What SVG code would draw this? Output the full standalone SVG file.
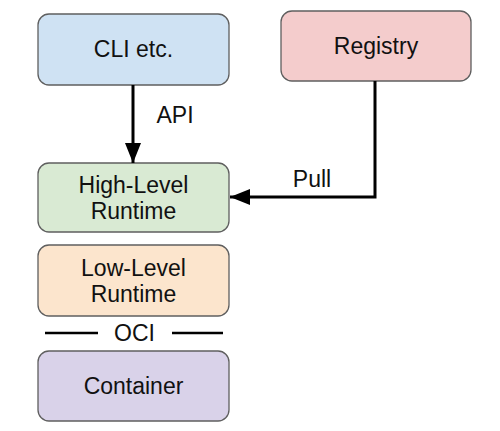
<svg xmlns="http://www.w3.org/2000/svg" width="500" height="431" viewBox="0 0 500 431">
<style>
.box{stroke:#5f5f5f;stroke-width:1.3}
.t{font-family:"Liberation Sans",Arial,sans-serif;font-size:23px;fill:#111;text-anchor:middle}
.c{fill:none;stroke:#000;stroke-width:3}
.o{stroke:#000;stroke-width:2.5}
</style>
<defs>
<marker id="ah" markerUnits="userSpaceOnUse" markerWidth="20" markerHeight="16" refX="20" refY="8" orient="auto">
<path d="M0,0 L20,8 L0,16 Z" fill="#000"/>
</marker>
</defs>
<rect width="500" height="431" fill="#fff"/>
<g id="cli"><rect class="box" x="38" y="14" width="191" height="71" rx="11" fill="#cfe2f3"/><text class="t" x="133.5" y="57">CLI etc.</text></g>
<g id="registry"><rect class="box" x="281" y="11" width="190" height="70" rx="11" fill="#f4cccc"/><text class="t" x="376" y="54">Registry</text></g>
<g id="high"><rect class="box" x="38" y="163" width="191" height="69" rx="11" fill="#d9ead3"/><text class="t" x="133.5" y="193">High-Level</text><text class="t" x="133.5" y="219">Runtime</text></g>
<g id="low"><rect class="box" x="38" y="245" width="191" height="71" rx="11" fill="#fce5cd"/><text class="t" x="133.5" y="276">Low-Level</text><text class="t" x="133.5" y="302">Runtime</text></g>
<g id="oci"><line class="o" x1="45" y1="333" x2="98" y2="333"/><line class="o" x1="172" y1="333" x2="223" y2="333"/><text class="t" x="134.5" y="341">OCI</text></g>
<g id="container"><rect class="box" x="38" y="351" width="191" height="70" rx="11" fill="#d9d2e9"/><text class="t" x="133.5" y="394">Container</text></g>
<g id="connectors">
<line class="c" x1="133" y1="85" x2="133" y2="163" marker-end="url(#ah)"/>
<text class="t" x="175" y="123">API</text>
<polyline class="c" points="375,81 375,197 230,197" marker-end="url(#ah)"/>
<text class="t" x="312" y="187">Pull</text>
</g>
</svg>
